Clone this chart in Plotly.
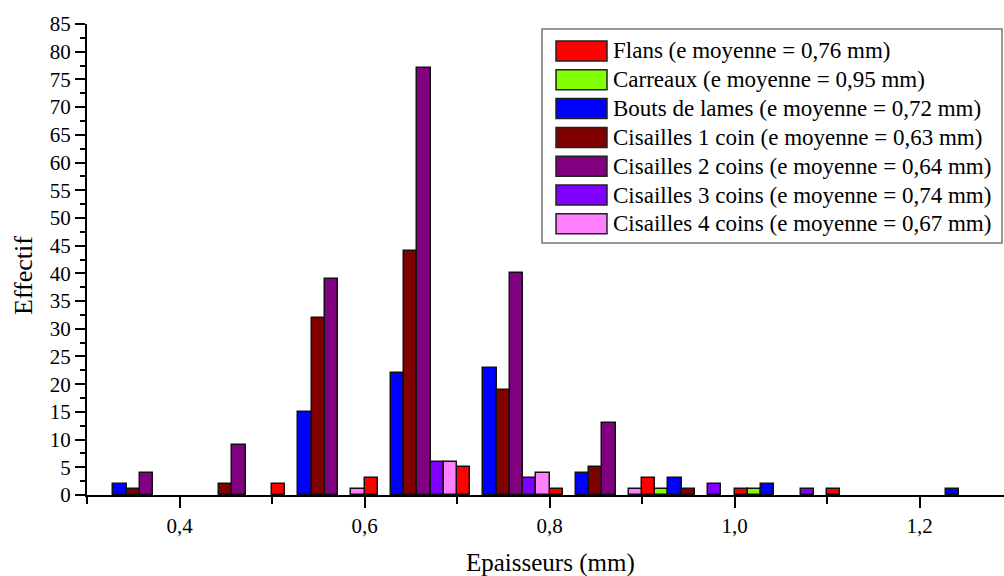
import plotly.graph_objects as go

# Bin centres (bins of 0.1 mm starting at 0.3)
bins = [0.35, 0.45, 0.55, 0.65, 0.75, 0.85, 0.95, 1.05, 1.15, 1.25]

names = [
    "Flans (e moyenne = 0,76 mm)",
    "Carreaux (e moyenne = 0,95 mm)",
    "Bouts de lames (e moyenne = 0,72 mm)",
    "Cisailles 1 coin (e moyenne = 0,63 mm)",
    "Cisailles 2 coins (e moyenne = 0,64 mm)",
    "Cisailles 3 coins (e moyenne = 0,74 mm)",
    "Cisailles 4 coins (e moyenne = 0,67 mm)",
]

flans     = [None, None, 2, 3, 5, 1, 3, 1, 1, None]
carreaux  = [None, None, None, None, None, None, 1, 1, None, None]
bouts     = [2, None, 15, 22, 23, 4, 3, 2, None, 1]
cis1      = [1, 2, 32, 44, 19, 5, 1, None, None, None]
cis2      = [4, 9, 39, 77, 40, 13, None, None, None, None]
cis3      = [None, None, None, 6, 3, None, 2, 1, None, None]
cis4      = [None, None, 1, 6, 4, 1, None, None, None, None]

series = [flans, carreaux, bouts, cis1, cis2, cis3, cis4]
colors = ["#FF0000", "#80FF00", "#0000FF", "#800000", "#800080", "#8000FF", "#FF80FF"]

x_title = "Epaisseurs (mm)"
y_title = "Effectif"

FONT = "Liberation Serif"

fig = go.Figure()
for name, vals, col in zip(names, series, colors):
    fig.add_trace(go.Bar(
        x=bins, y=vals, name=name,
        marker=dict(color=col, line=dict(color="#111111", width=1.5)),
        showlegend=False,
    ))

# Plot-area geometry (pixels)
L, R, T, B = 87, 0, 24, 81
W, H = 1004, 576
pw, ph = W - L - R, H - T - B

def px(x):
    return (x - L) / pw

def py(y):
    return (H - B - y) / ph

shapes = []
annotations = []
# legend box
shapes.append(dict(type="rect", xref="paper", yref="paper",
                   x0=px(542), x1=px(1002), y0=py(243), y1=py(29),
                   line=dict(color="#777777", width=1.5), fillcolor="white", layer="above"))
for i, (name, col) in enumerate(zip(names, colors)):
    top = 41 + i * 28.8
    shapes.append(dict(type="rect", xref="paper", yref="paper",
                       x0=px(556), x1=px(607), y0=py(top + 20), y1=py(top),
                       line=dict(color="#222222", width=1.5), fillcolor=col, layer="above"))
    annotations.append(dict(xref="paper", yref="paper", x=px(611), y=py(top + 10),
                            text=name, showarrow=False, xanchor="left", yanchor="middle",
                            font=dict(family=FONT, size=23, color="black")))

# axis titles
annotations.append(dict(xref="paper", yref="paper", x=px(550), y=py(563),
                        text=x_title, showarrow=False, xanchor="center", yanchor="middle",
                        font=dict(family=FONT, size=25, color="black")))
annotations.append(dict(xref="paper", yref="paper", x=px(23), y=py(276),
                        text=y_title, showarrow=False, xanchor="center", yanchor="middle",
                        textangle=-90, font=dict(family=FONT, size=26, color="black")))

fig.update_layout(
    width=W, height=H,
    margin=dict(l=L, r=R, t=T, b=B),
    barmode="group", bargap=0, bargroupgap=0,
    plot_bgcolor="white", paper_bgcolor="white",
    separators=", ",
    font=dict(family=FONT, size=21, color="black"),
    shapes=shapes, annotations=annotations,
    xaxis=dict(
        range=[0.3, 0.3 + pw / 925.0],
        tick0=0.4, dtick=0.2, tickformat=".1f",
        ticks="outside", ticklen=11, tickwidth=2, tickcolor="black",
        minor=dict(tick0=0.3, dtick=0.1, ticks="outside", ticklen=7, tickwidth=1.5, tickcolor="black"),
        showline=True, linecolor="black", linewidth=2,
        showgrid=False, zeroline=False,
        ticklabelstandoff=0,
        automargin=False,
        tickfont=dict(family=FONT, size=21),
    ),
    yaxis=dict(
        range=[0, 85], tick0=0, dtick=5,
        ticks="outside", ticklen=10, tickwidth=2, tickcolor="black",
        minor=dict(dtick=2.5, ticks="outside", ticklen=5, tickwidth=1.5, tickcolor="black"),
        showline=True, linecolor="black", linewidth=2,
        showgrid=False, zeroline=False,
        automargin=False,
        tickfont=dict(family=FONT, size=21),
    ),
)

fig.write_html(
    "out.html",
    config={"displayModeBar": False},
    post_script="document.body.style.margin='0';document.body.style.overflow='hidden';",
)
